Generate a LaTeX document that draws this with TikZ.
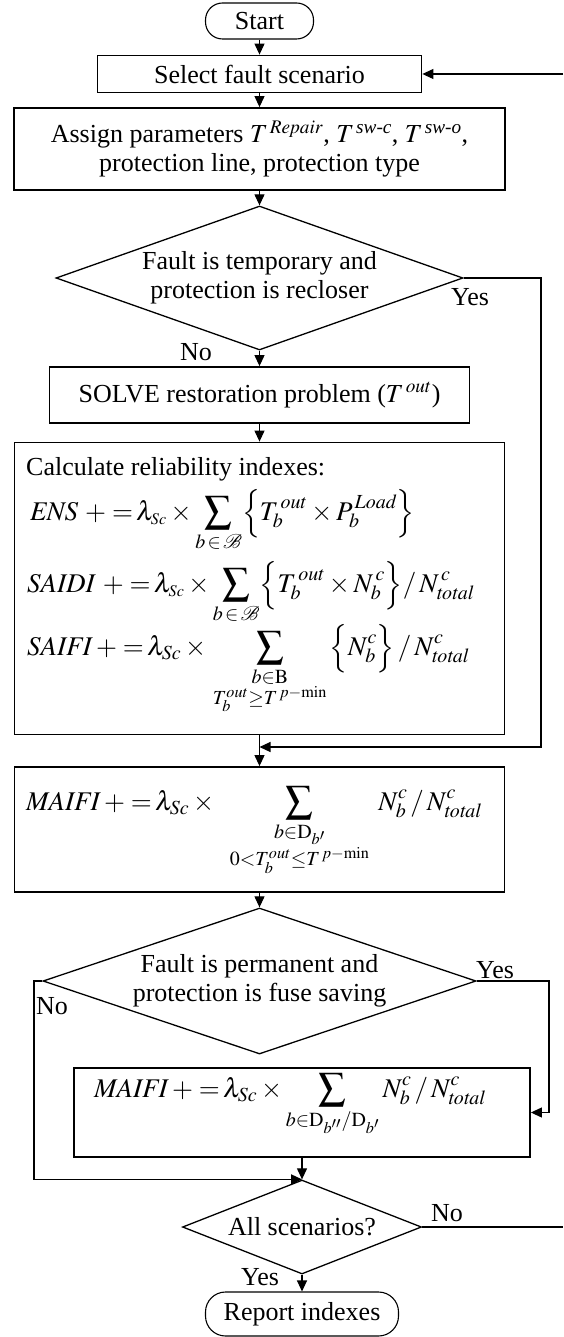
\documentclass[tikz,border=0pt]{standalone}
\usepackage{amsmath}
\usepackage{mathptmx}
\usepackage[no-math]{fontspec}
\setmainfont{Liberation Serif}
\usetikzlibrary{shapes.geometric,arrows.meta}
\tikzset{
  box/.style={draw, line width=1.8pt, inner sep=0pt, align=center},
  term/.style={draw, line width=1.1pt, rounded corners=17pt, inner sep=0pt},
  dec/.style={draw, diamond, line width=1.3pt, inner sep=0pt, align=center},
  arr/.style={line width=1.1pt, -{Triangle[length=11pt,width=10pt]}},
  ln/.style={line width=1.1pt},
  lbl/.style={inner sep=0pt},
  fml/.style={inner sep=0pt, anchor=base west, font=\fontsize{27}{29}\selectfont}
}
\begin{document}
\begin{tikzpicture}[x=1pt,y=-1pt,font=\fontsize{26}{29}\selectfont]
\useasboundingbox (0,0) rectangle (563,1337);
% nodes
\node[term, minimum width=108pt, minimum height=36pt] (start) at (259.5,21) {Start};
\node[box, minimum width=324pt, minimum height=37pt] (sel) at (259.5,74) {Select fault scenario};
\node[box, minimum width=491pt, minimum height=82pt] (asg) at (259.5,149)
  {Assign parameters $T^{\,\mathit{Repair}}$, $T^{\,\textit{sw-c}}$, $T^{\,\textit{sw-o}}$,\\ protection line, protection type};
\node[dec, shape aspect=2.83, minimum width=407pt, minimum height=144pt] (d1) at (259.5,278) {Fault is temporary and\\ protection is recloser};
\node[box, minimum width=420pt, minimum height=56pt] (solve) at (259.5,395) {SOLVE restoration problem ($T^{\,out}$)};
\node[box, minimum width=490pt, minimum height=292pt] (calc) at (259.5,588.5) {};
\node[box, minimum width=490pt, minimum height=125pt] (maifi) at (259.5,829.5) {};
\node[dec, shape aspect=2.97, minimum width=433pt, minimum height=146pt] (d2) at (259.5,981) {Fault is permanent and\\ protection is fuse saving};
\node[box, minimum width=456pt, minimum height=89pt] (m2) at (302,1112.5) {};
\node[dec, shape aspect=2.54, minimum width=239pt, minimum height=94pt] (d3) at (302,1227) {All scenarios?};
\node[term, minimum width=193pt, minimum height=44pt, rounded corners=20pt] (rep) at (302,1314) {Report indexes};
% formulas
\node[lbl, anchor=base west] (ctitle) at (26,475) {Calculate reliability indexes:};
\node[fml] (ens) at (30,520)
  {$\displaystyle \mathit{ENS}\ {+}\;{=}\,\lambda_{\scriptscriptstyle Sc}\times\sum_{b\,\in\,\mathcal{B}}\Bigl\{T_b^{\,out}\times P_b^{\,\mathit{Load}}\Bigr\}$};
\node[fml] (saidi) at (27,592)
  {$\displaystyle \mathit{SAIDI}\ {+}\;{=}\,\lambda_{\scriptscriptstyle Sc}\times\sum_{b\,\in\,\mathcal{B}}\Bigl\{T_b^{\,out}\times N_b^{\,c}\Bigr\}/\,N^{\,c}_{\mathit{total}}$};
\node[fml] (saifi) at (27,655)
  {$\displaystyle \mathit{SAIFI}\,{+}\;{=}\,\lambda_{Sc}\times\,\sum_{\substack{b\in\mathrm{B}\\ T_b^{out}\ge T^{\,p-\min}}}\,\Bigl\{N_b^c\Bigr\}\,/\,N^c_{\mathit{total}}$};
\node[fml] (mf1) at (26,810)
  {$\displaystyle \mathit{MAIFI}\,{+}\;{=}\,\lambda_{Sc}\times\hspace{12pt}\sum_{\substack{b\in\mathrm{D}_{b'}\\ 0<T_b^{out}\le T^{\,p-\min}}}\;N_b^c\,/\,N^c_{\mathit{total}}$};
\node[fml] (mf2) at (94,1097)
  {$\displaystyle \mathit{MAIFI}\,{+}\;{=}\,\lambda_{Sc}\times\sum_{b\in\mathrm{D}_{b''}/\mathrm{D}_{b'}}N_b^c\,/\,N^c_{\mathit{total}}$};
% labels
\node[lbl] (y1) at (470,297) {Yes};
\node[lbl] (n1) at (196,352) {No};
\node[lbl] (y2) at (495,970) {Yes};
\node[lbl] (n2) at (52,1006) {No};
\node[lbl] (n3) at (447,1213) {No};
\node[lbl] (y3) at (260,1277) {Yes};
% connectors
\coordinate (yes1) at (541,278);
\coordinate (mrg) at (259.5,747);
\coordinate (no2) at (34,981);
\coordinate (yes2) at (549,981);
\coordinate (no3) at (563,1227);
\coordinate (loop) at (563,74);
\draw[arr] (start.south) -- (sel.north);
\draw[arr] (sel.south) -- (asg.north);
\draw[arr] (asg.south) -- (d1.north);
\draw[arr] (d1.south) -- (solve.north);
\draw[arr] (solve.south) -- (calc.north);
\draw[arr] (calc.south) -- (maifi.north);
\draw[arr] (d1.east) -- (yes1) |- (mrg);
\draw[arr] (maifi.south) -- (d2.north);
\draw[arr] (d2.west) -- (no2) |- (d3.north);
\draw[arr] (d2.east) -- (yes2) |- (m2.east);
\draw[arr] (m2.south) -- (d3.north);
\draw[arr] (d3.south) -- (rep.north);
\draw[ln] (d3.east) -- (no3);
\draw[arr] (loop) -- (sel.east);
\end{tikzpicture}
\end{document}
